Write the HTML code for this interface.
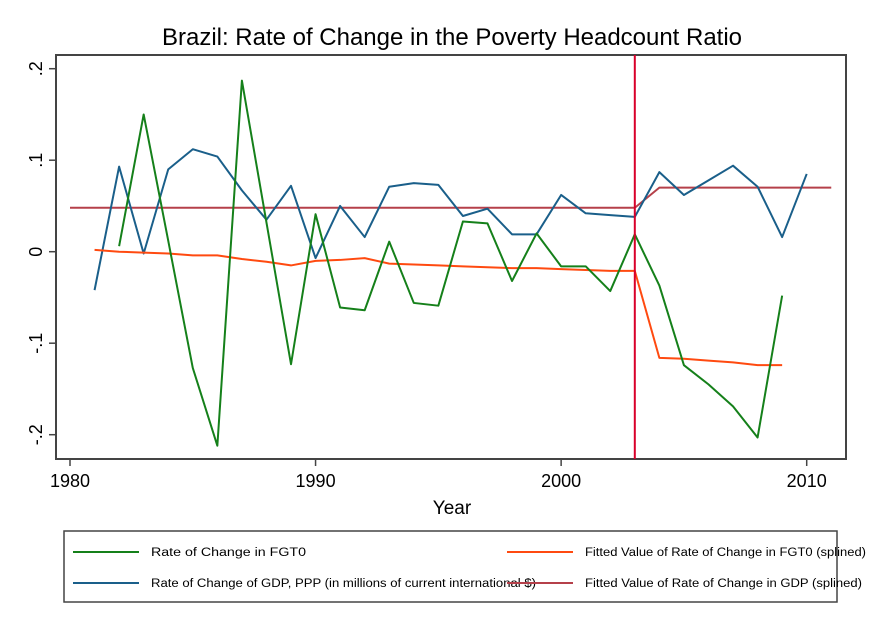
<!DOCTYPE html>
<html><head><meta charset="utf-8"><style>
html,body{margin:0;padding:0;background:#fff;}
svg{display:block;font-family:"Liberation Sans",Arial,sans-serif;}
</style></head><body>
<svg id="chart" width="869" height="632" viewBox="0 0 869 632">
<text x="452" y="45" font-size="24" text-anchor="middle" textLength="580" lengthAdjust="spacingAndGlyphs">Brazil: Rate of Change in the Poverty Headcount Ratio</text>
<rect x="56" y="55" width="790" height="404" fill="none" stroke="#444" stroke-width="2"/>
<g id="axes"></g>
<g id="series"></g>
<text x="452" y="514" font-size="19" text-anchor="middle">Year</text>
<rect x="64" y="531" width="773" height="71" fill="none" stroke="#444" stroke-width="1.5"/>
<g>
<line x1="73" y1="552" x2="139" y2="552" stroke="#15801a" stroke-width="2"/>
<text x="151" y="556" font-size="11.5" textLength="155" lengthAdjust="spacingAndGlyphs">Rate of Change in FGT0</text></g>
<g>
<line x1="73" y1="583" x2="139" y2="583" stroke="#1a5f8a" stroke-width="2"/>
<text x="151" y="587" font-size="11.5" textLength="385" lengthAdjust="spacingAndGlyphs">Rate of Change of GDP, PPP (in millions of current international $)</text></g>
<g>
<line x1="507" y1="552" x2="573" y2="552" stroke="#ff4a10" stroke-width="2"/>
<text x="585" y="556" font-size="11.5" textLength="281" lengthAdjust="spacingAndGlyphs">Fitted Value of Rate of Change in FGT0 (splined)</text></g>
<g>
<line x1="507" y1="583" x2="573" y2="583" stroke="#b5404a" stroke-width="2"/>
<text x="585" y="587" font-size="11.5" textLength="277" lengthAdjust="spacingAndGlyphs">Fitted Value of Rate of Change in GDP (splined)</text></g>
</svg>
<script>
const gdpYears=[1981,1982,1983,1984,1985,1986,1987,1988,1989,1990,1991,1992,1993,1994,1995,1996,1997,1998,1999,2000,2001,2002,2003,2004,2005,2006,2007,2008,2009,2010];
const gdpValues=[-0.042,0.093,-0.002,0.090,0.112,0.104,0.067,0.035,0.072,-0.007,0.050,0.016,0.071,0.075,0.073,0.039,0.047,0.019,0.019,0.062,0.042,0.040,0.038,0.087,0.062,0.078,0.094,0.071,0.016,0.085];
const fgtYears=[1982,1983,1984,1985,1986,1987,1988,1989,1990,1991,1992,1993,1994,1995,1996,1997,1998,1999,2000,2001,2002,2003,2004,2005,2006,2007,2008,2009];
const fgtValues=[0.006,0.150,0.012,-0.127,-0.212,0.187,0.032,-0.123,0.041,-0.061,-0.064,0.011,-0.056,-0.059,0.033,0.031,-0.032,0.020,-0.016,-0.016,-0.043,0.019,-0.037,-0.124,-0.145,-0.169,-0.203,-0.048];
const fitFgtYears=[1981,1982,1983,1984,1985,1986,1987,1988,1989,1990,1991,1992,1993,1994,1995,1996,1997,1998,1999,2000,2001,2002,2003,2004,2005,2006,2007,2008,2009];
const fitFgtValues=[0.002,0.000,-0.001,-0.002,-0.004,-0.004,-0.008,-0.011,-0.015,-0.010,-0.009,-0.007,-0.013,-0.014,-0.015,-0.016,-0.017,-0.018,-0.018,-0.019,-0.020,-0.021,-0.021,-0.116,-0.117,-0.119,-0.121,-0.124,-0.124];
const fitGdpYears=[1980,2003,2004,2011];
const fitGdpValues=[0.048,0.048,0.070,0.070];
const breakYear=[2003];
const xTicks=[1980,1990,2000,2010];
const yTicks=[0.2,0.1,0,-0.1,-0.2];
const yTickLabels=[".2",".1","0","-.1","-.2"];

const NS="http://www.w3.org/2000/svg";
const xs=y=>70+(y-1980)*(806.7-70)/30;
const ys=v=>251.7-v*915;
const axes=document.getElementById('axes');
const ser=document.getElementById('series');
function mk(t,a,p){const e=document.createElementNS(NS,t);for(const k in a)e.setAttribute(k,a[k]);p.appendChild(e);return e;}
xTicks.forEach(t=>{
  const l=mk('line',{x1:xs(t),x2:xs(t),y1:459,y2:466,stroke:'#444','stroke-width':1.5},axes);
  
  
  const tx=mk('text',{x:xs(t),y:487,'font-size':18,'text-anchor':'middle'},axes);
  tx.textContent=t;
  
  
});
yTicks.forEach((t,i)=>{
  const l=mk('line',{x1:49,x2:56,y1:ys(t),y2:ys(t),stroke:'#444','stroke-width':1.5},axes);
  
  
  const tx=mk('text',{x:0,y:0,'font-size':18,'text-anchor':'middle',transform:`translate(42,${ys(t)}) rotate(-90)`},axes);
  tx.textContent=yTickLabels[i];
  
  
});
function line(xsA,vs,color,name){
  const p=mk('polyline',{points:xsA.map((y,i)=>xs(y)+','+ys(vs[i])).join(' '),fill:'none',stroke:color,'stroke-width':2,'stroke-linejoin':'round'},ser);
  
  
}
line(fitGdpYears,fitGdpValues,'#b5404a','fitted-gdp-line');
line(gdpYears,gdpValues,'#1a5f8a','gdp-line');
line(fitFgtYears,fitFgtValues,'#ff4a10','fitted-fgt0-line');
line(fgtYears,fgtValues,'#15801a','fgt0-line');
const vl=mk('line',{x1:xs(breakYear[0]),x2:xs(breakYear[0]),y1:55,y2:459,stroke:'#d8002a','stroke-width':2},ser);


</script>
</body></html>
